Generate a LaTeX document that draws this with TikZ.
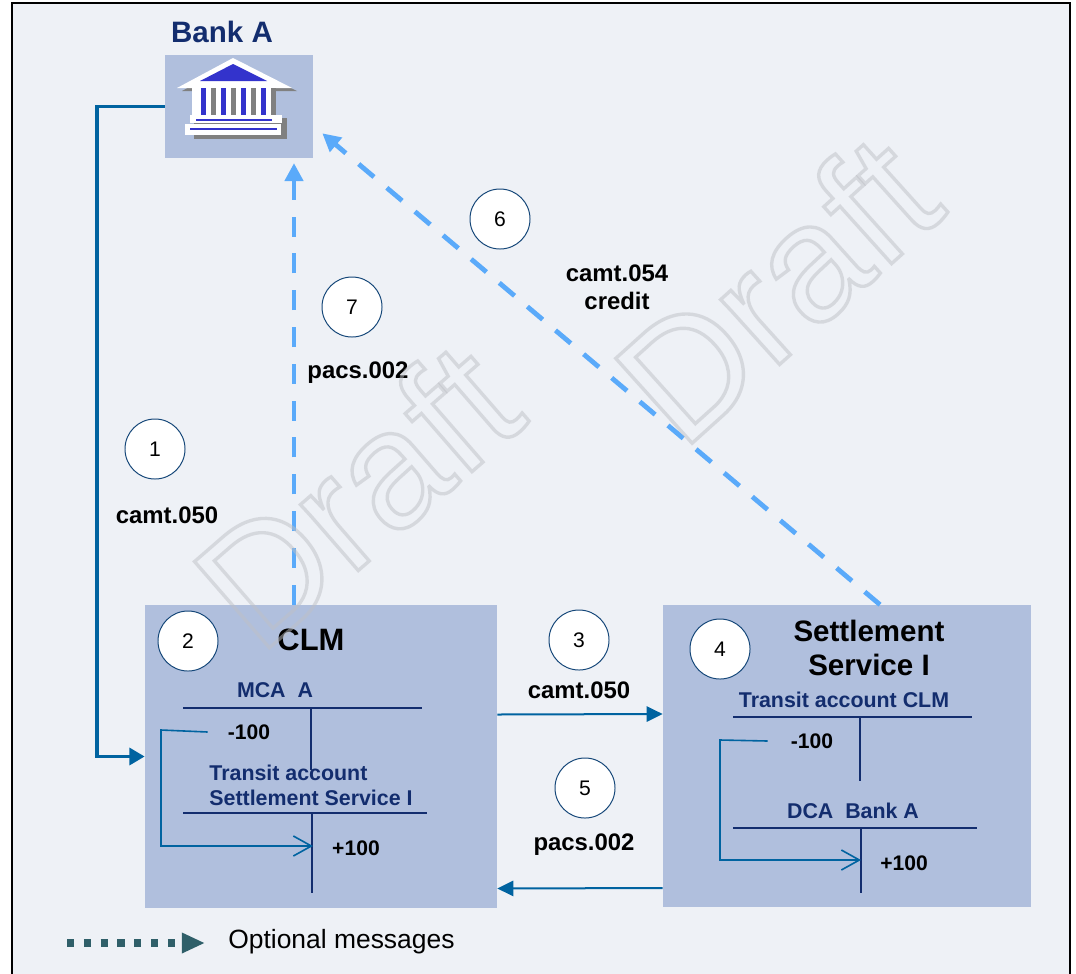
\documentclass[tikz,border=0pt]{standalone}
\usepackage{fontspec}
\setmainfont{Liberation Sans}
\usetikzlibrary{arrows.meta}

\definecolor{bgblue}{RGB}{238,241,246}
\definecolor{boxblue}{RGB}{176,191,221}
\definecolor{flowblue}{RGB}{0,99,160}
\definecolor{optblue}{RGB}{90,170,250}
\definecolor{navy}{RGB}{19,45,110}
\definecolor{legendteal}{RGB}{47,95,105}
\definecolor{circleblue}{RGB}{20,70,120}
\definecolor{iconblue}{RGB}{51,51,204}
\definecolor{wmgray}{RGB}{190,192,198}

\tikzset{
	box/.style={fill=boxblue, inner sep=0},
	num/.style={circle, draw=circleblue, fill=white, line width=0.7pt, minimum size=1.5cm, inner sep=0, font=\fontsize{15}{15}\selectfont},
	msg/.style={inner sep=0, font=\fontsize{17}{20}\selectfont\bfseries, align=center},
	acct/.style={inner sep=0, text=navy, font=\fontsize{15.2}{17.8}\selectfont\bfseries, align=left},
	amount/.style={inner sep=0, font=\fontsize{15}{15}\selectfont\bfseries},
	head/.style={inner sep=0, font=\fontsize{21}{24.2}\selectfont\bfseries, align=center},
	flow/.style={flowblue, line width=0.09cm, -{Triangle[length=0.38cm,width=0.42cm]}},
	thinflow/.style={flowblue, line width=0.05cm, -{Triangle[length=0.4cm,width=0.38cm]}},
	optional/.style={optblue, line width=0.12cm, dash pattern=on 0.5cm off 0.42cm, -{Triangle[length=0.45cm,width=0.45cm]}},
	transfer/.style={flowblue, line width=0.04cm, -{Straight Barb[length=0.45cm,width=0.5cm]}},
	tline/.style={navy, line width=0.065cm},
	wmark/.style={inner sep=0, text=wmgray, opacity=0.5, font=\fontsize{118}{120}\selectfont}
}

\begin{document}
\begin{tikzpicture}[x=0.025cm,y=-0.025cm]
		\newcommand{\taccount}[5]{ % #1: left, #2: right, #3: y of top line, #4: x of stem, #5: y of stem end
			\draw[tline] (#1,#3) -- (#2,#3);
			\draw[tline] (#4,#3) -- (#4,#5);
		}
		\newcommand{\outlined}[1]{\special{pdf:literal direct 1 Tr 2.4 w}#1\special{pdf:literal direct 0 Tr}}

		\useasboundingbox (0,0) rectangle (1076,973);
		\fill[white] (0,0) rectangle (1076,973);
		\draw[fill=bgblue, line width=0.06cm] (12,3) rectangle (1070,990);

		%bank
		\node[head, text=navy] (bankname) at (222,32) {Bank A};
		\node[box, minimum width=3.7cm, minimum height=2.575cm] (bank) at (239,106.5) {};
		\fill[gray] (236,61) -- (297,91) -- (182,91) -- cycle;
		\fill[gray] (194,118) rectangle (287,139);
		\fill[white] (233,58) -- (292,88) -- (177,88) -- cycle;
		\fill[iconblue] (233,64) -- (267,81) -- (200,81) -- cycle;
		\fill[white] (192,88) rectangle (276,116);
		\foreach \x in {201,221,241,261} {
			\fill[iconblue] (\x,88) rectangle ({\x+4.5},115);
			\fill[gray] ({\x+10},88) rectangle ({\x+14.5},117);
		}
		\fill[white] (190,115) rectangle (282,123);
		\fill[white] (185,124) rectangle (281,135);
		\draw[iconblue, line width=0.05cm] (196,120) -- (272,120);
		\draw[iconblue, line width=0.05cm] (190,129) -- (277,129);

		%service boxes
		\node[box, minimum width=8.8cm, minimum height=7.575cm] (clm) at (321,756.5) {};
		\node[box, minimum width=9.2cm, minimum height=7.55cm] (ssi) at (847,756) {};

		%CLM
		\node[num] (n2) at (188,641) {2};
		\node[head, font=\fontsize{22}{24}\selectfont\bfseries] (clmname) at (311,640) {CLM};
		\node[acct] (mcaA) at (275,690) {MCA\ \ A};
		\taccount{183}{422}{708}{311}{770}
		\node[amount] (mA) at (249,732) {-100};
		\node[acct] (transitssi) at (311,785) {Transit account\\Settlement Service I};
		\taccount{183}{427}{813}{312}{893}
		\node[amount] (pA) at (356,848) {+100};
		\draw[transfer] ([xshift=-0.5cm]mA.west) -- (161,730) -- (161,846) -- (313,846);

		%Settlement Service I
		\node[num] (n4) at (720,649) {4};
		\node[head] (ssiname) at (869,648) {Settlement\\Service I};
		\node[acct] (transitclm) at (844,700) {Transit account CLM};
		\taccount{733}{972}{717}{860}{781}
		\node[amount] (mB) at (812,741) {-100};
		\node[acct] (dcaA) at (853,811) {DCA\ \ Bank A};
		\taccount{733}{977}{828}{861}{893}
		\node[amount] (pB) at (904,863) {+100};
		\draw[transfer] ([xshift=-0.575cm]mB.west) -- (720,740) -- (720,860) -- (861,860);

		%messages
		\node[num] (n1) at (155,449) {1};
		\node[msg] (lab1) at (167,515) {camt.050};
		\coordinate (c1) at (97,0);
		\draw[flow] (bank.west) -- (bank.west -| c1) |- (clm.west);

		\node[num] (n3) at (579,640) {3};
		\node[msg] (lab3) at (579,690) {camt.050};
		\draw[thinflow] ([shift={(0,-42)}]clm.east) -- ([shift={(0,-42)}]ssi.west);

		\node[num] (n5) at (585,788) {5};
		\node[msg] (lab5) at (584,845) {pacs.002};
		\draw[thinflow] ([shift={(0,132)}]ssi.west) -- ([shift={(0,132)}]clm.east);

		%optional messages
		\node[num] (n7) at (352,307) {7};
		\node[msg] (lab7) at (358,373) {pacs.002};
		\coordinate (o7) at ([shift={(-27,0)}]clm.north);
		\draw[optional, shorten >=0.12cm] (o7) -- (o7 |- bank.south);

		\node[num] (n6) at (500,219) {6};
		\node[msg] (lab6) at (617,287) {camt.054\\credit};
		\draw[optional] ([shift={(33,0)}]ssi.north) -- ([shift={(9,-25)}]bank.south east);

		%legend
		\coordinate (legstart) at (67,943);
		\node[inner sep=0, anchor=west, font=\fontsize{18.8}{20}\selectfont] (legtext) at (228,942) {Optional messages};
		\draw[legendteal, line width=0.18cm, dash pattern=on 0.18cm off 0.24cm, -{Triangle[length=0.58cm,width=0.48cm]}] (legstart) -- ([xshift=-0.575cm]legtext.west |- legstart);

		%watermark
		\node[wmark, rotate=41] (draft1) at (356,494) {\outlined{Draft}};
		\node[wmark, rotate=42] (draft2) at (776,288) {\outlined{Draft}};
	\end{tikzpicture}
\end{document}
